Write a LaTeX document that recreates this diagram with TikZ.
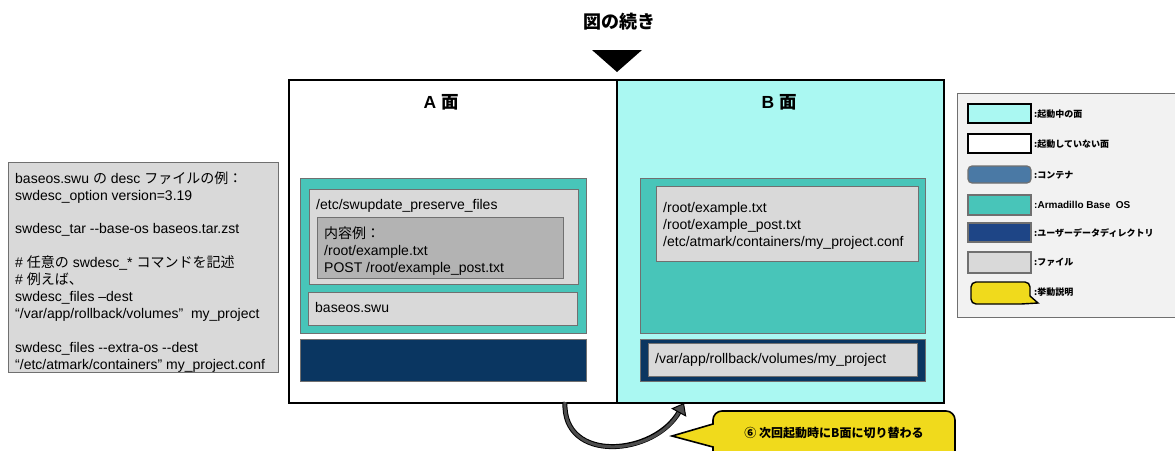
\documentclass[tikz,border=0pt]{standalone}
\usepackage{fontspec}
\setmainfont{Liberation Sans}
\newfontfamily\jp{Noto Sans CJK JP}
\usetikzlibrary{arrows.meta}
\newcommand\J[1]{{\jp #1}}
\definecolor{bcyan}{HTML}{AAF8F2}
\definecolor{osteal}{HTML}{48C5B9}
\definecolor{filegray}{HTML}{D9D9D9}
\definecolor{darkgray2}{HTML}{B3B3B3}
\definecolor{navyA}{HTML}{0A3661}
\definecolor{contblue}{HTML}{4A79A5}
\definecolor{udnavy}{HTML}{1E4586}
\definecolor{legbg}{HTML}{F2F2F2}
\definecolor{cyell}{HTML}{F0DA1C}
\definecolor{arrgray}{HTML}{4D4D4D}
\definecolor{bordgray}{HTML}{707070}
\begin{document}
\begin{tikzpicture}[x=1pt,y=-1pt,
  bx/.style={anchor=north west, inner sep=0pt, outer sep=0pt},
  panel/.style={bx, draw=black, line width=2.5pt},
  osbox/.style={bx, fill=osteal, draw=bordgray, line width=1pt},
  filebox/.style={bx, fill=filegray, draw=bordgray, line width=1pt},
  darkfile/.style={bx, fill=darkgray2, draw=bordgray, line width=1pt},
  navybox/.style={bx, fill=navyA, draw=bordgray, line width=1pt},
  txt/.style={anchor=base west, inner sep=0pt, align=left, font=\fontsize{14}{16.9}\selectfont},
  swatch/.style={bx, minimum width=63pt, minimum height=19pt},
  lbl/.style={anchor=west, inner sep=0pt, font=\bfseries\fontsize{9}{10}\selectfont},
  callout/.style={fill=cyell, draw=black, line width=1.6pt},
  head/.style={font=\bfseries\fontsize{17.5}{20}\selectfont}
]
\useasboundingbox (0,0) rectangle (1175,450);

% title and marker
\node[font=\bfseries\fontsize{18}{20}\selectfont] (title) at (619,22) {\J{図の続き}};
\fill[black] (592,50) -- (642,50) -- (617,72) -- cycle;

% description box (multi-line texts are placed by their last baseline)
\node[bx, fill=filegray, draw=bordgray, line width=1pt, minimum width=270pt, minimum height=210pt] (desc) at (8,162) {};
\node[txt] (desctext) at (15,369) {baseos.swu \J{の} desc \J{ファイルの例：}\\
swdesc\_option version=3.19\\[16.9pt]
swdesc\_tar -{}-base-os baseos.tar.zst\\[16.9pt]
\# \J{任意の} swdesc\_* \J{コマンドを記述}\\
\# \J{例えば、}\\
swdesc\_files –dest\\
“/var/app/rollback/volumes”\ \ my\_project\\[16.9pt]
swdesc\_files -{}-extra-os -{}-dest\\
“/etc/atmark/containers” my\_project.conf};

% panels
\node[panel, fill=white, minimum width=328pt, minimum height=323pt] (A) at (289,80) {};
\node[panel, fill=bcyan, minimum width=327pt, minimum height=323pt] (B) at (617,80) {};
\node[head] (Atitle) at (441,102) {A \J{面}};
\node[head] (Btitle) at (779,102) {B \J{面}};

% A side
\node[osbox, minimum width=286pt, minimum height=155pt] (Aos) at (300,178) {};
\node[filebox, minimum width=269pt, minimum height=95pt] (Apres) at (309,189) {};
\node[txt] (ApresT) at (316,209) {/etc/swupdate\_preserve\_files};
\node[darkfile, minimum width=246pt, minimum height=61pt] (Aex) at (317,217) {};
\node[txt] (AexT) at (324,272) {\J{内容例：}\\ /root/example.txt\\ POST /root/example\_post.txt};
\node[filebox, minimum width=269pt, minimum height=33pt] (Aswu) at (308,292) {};
\node[txt] (AswuT) at (315,312) {baseos.swu};
\node[navybox, minimum width=286pt, minimum height=42pt] (Anavy) at (300,339) {};

% B side
\node[osbox, minimum width=285pt, minimum height=155pt] (Bos) at (640,178) {};
\node[filebox, minimum width=262pt, minimum height=75pt] (Bfile) at (656,186) {};
\node[txt] (BfileT) at (663,246) {/root/example.txt\\ /root/example\_post.txt\\ /etc/atmark/containers/my\_project.conf};
\node[navybox, minimum width=285pt, minimum height=42pt] (Bnavy) at (640,339) {};
\node[filebox, minimum width=269pt, minimum height=33pt] (Bvol) at (648,343) {};
\node[txt] (BvolT) at (655,363) {/var/app/rollback/volumes/my\_project};

% curved arrow
\coordinate (aS) at (565,402);
\coordinate (aE) at (684,403);
\draw[line width=5pt, black, shorten >=9pt] (aS) .. controls (562,464) and (655,456) .. (aE);
\draw[line width=3pt, arrgray, -{Triangle[length=11pt,width=17pt,fill=arrgray,color=black,line width=1pt]}] (aS) .. controls (562,464) and (655,456) .. (aE);

% callout
\draw[callout] (713,424) [rounded corners=9pt] -- (713,411) -- (955,411) -- (955,475) -- (713,475) [sharp corners] -- (713,447) -- (672,436) -- cycle;
\node[font=\bfseries\fontsize{12}{14}\selectfont] (calloutT) at (834,433) {\J{⑥ 次回起動時にB面に切り替わる}};

% legend
\node[bx, fill=legbg, draw=bordgray, line width=1pt, minimum width=225pt, minimum height=224pt] (leg) at (957,93) {};
\node[swatch, fill=bcyan, draw=black, line width=2pt] (s1) at (968,104) {};
\node[swatch, fill=white, draw=black, line width=2pt] (s2) at (968,134) {};
\node[swatch, fill=contblue, draw=bordgray, line width=1.2pt, rounded corners=4pt, minimum height=17pt] (s3) at (968,166) {};
\node[swatch, fill=osteal, draw=bordgray, line width=1.2pt, minimum height=20pt] (s4) at (968,195) {};
\node[swatch, fill=udnavy, draw=bordgray, line width=1.2pt] (s5) at (968,223) {};
\node[swatch, fill=filegray, draw=bordgray, line width=1.2pt, minimum height=21pt] (s6) at (968,252) {};
\draw[callout, line width=1.4pt] (1030,296) [rounded corners=5pt] -- (1030,282) -- (971,282) -- (971,304) [sharp corners] -- (1021,304) -- (1038,303) -- cycle;
\node[lbl] (l1) at (1034,114) {\J{:起動中の面}};
\node[lbl] (l2) at (1034,144) {\J{:起動していない面}};
\node[lbl] (l3) at (1034,175) {\J{:コンテナ}};
\node[lbl, font=\bfseries\fontsize{10}{11}\selectfont] (l4) at (1034,205) {:Armadillo Base\ \ OS};
\node[lbl] (l5) at (1034,233) {\J{:ユーザーデータディレクトリ}};
\node[lbl] (l6) at (1034,262) {\J{:ファイル}};
\node[lbl] (l7) at (1034,292) {\J{:挙動説明}};
\end{tikzpicture}
\end{document}
